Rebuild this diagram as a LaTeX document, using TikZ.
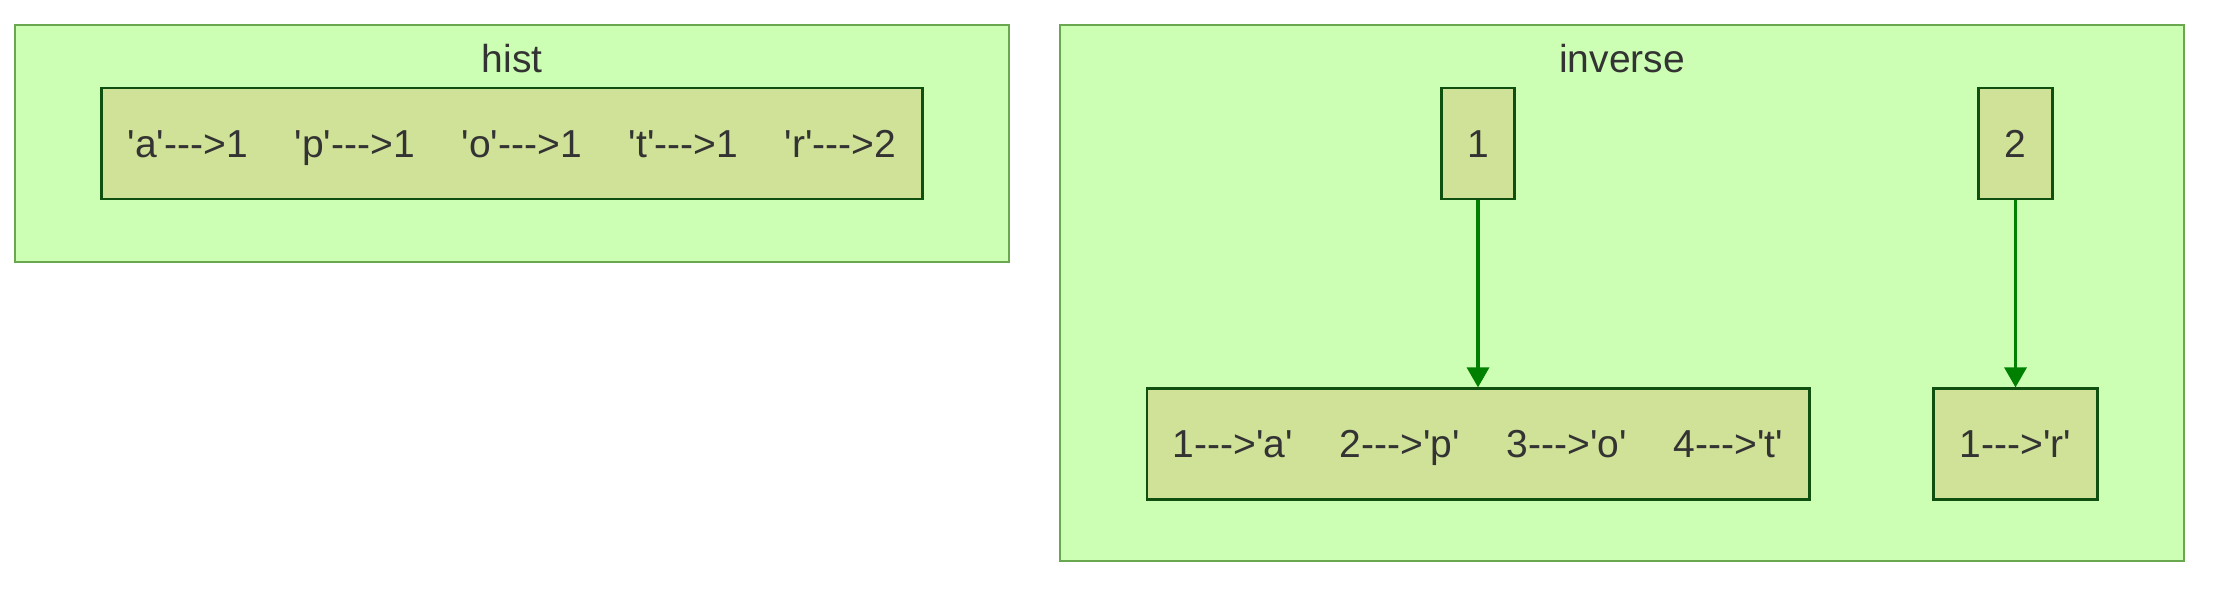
\documentclass[tikz,border=0pt]{standalone}
\usepackage{fontspec}
\newfontfamily\labelfont{Liberation Sans}
\usetikzlibrary{positioning,arrows.meta}
\definecolor{clusterfill}{HTML}{CCFFB3}
\definecolor{clusterline}{HTML}{6AA84F}
\definecolor{entryfill}{HTML}{D0E298}
\definecolor{entryline}{HTML}{0F4F0F}
\definecolor{linkgreen}{HTML}{008000}
\definecolor{labeltext}{HTML}{333333}
\newcommand{\pairgap}{\hspace{23.5pt}}

\begin{document}
\begin{tikzpicture}[x=0.5pt, y=-0.5pt, >={Triangle[length=10pt,width=11pt]},
    cluster/.style={rectangle, draw=clusterline, fill=clusterfill, line width=1pt},
    entry/.style={rectangle, draw=entryline, fill=entryfill, line width=1.4pt,
      minimum height=55.5pt, inner xsep=13pt, text height=14pt, text depth=0.5pt,
      text=labeltext, font=\labelfont\fontsize{19.5}{23}\selectfont},
    title/.style={anchor=base, text=labeltext, font=\labelfont\fontsize{19.5}{23}\selectfont},
    link/.style={->, draw=linkgreen, line width=1.6pt}]
  \useasboundingbox (0,0) rectangle (2216,599);
  % hist
  \node[cluster, minimum width=497pt, minimum height=118pt] (hist) at (512,143.5) {};
  \node[title] (histtitle) at (512,73) {hist};
  \node[entry] (hentries) at (512,143.5)
    {'a'--->1\pairgap'p'--->1\pairgap'o'--->1\pairgap't'--->1\pairgap'r'--->2};
  % inverse
  \node[cluster, minimum width=562pt, minimum height=267.5pt] (inverse) at (1622,293) {};
  \node[title] (invtitle) at (1622,73) {inverse};
  \node[entry] (k1) at (1478,143.5) {1};
  \node[entry] (k2) at (2015.5,143.5) {2};
  \node[entry, below=93.5pt of k1] (va)
    {1--->'a'\pairgap2--->'p'\pairgap3--->'o'\pairgap4--->'t'};
  \node[entry, below=93.5pt of k2] (vb) {1--->'r'};
  \draw[link] (k1) -- (va);
  \draw[link] (k2) -- (vb);
\end{tikzpicture}
\end{document}
